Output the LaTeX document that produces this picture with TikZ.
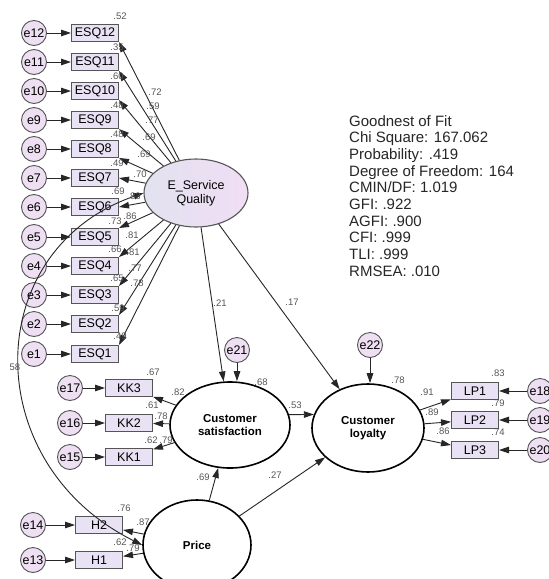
\documentclass[tikz,border=0pt]{standalone}
\usepackage{fontspec}
\setmainfont{Liberation Sans}
\usetikzlibrary{shapes.geometric,arrows.meta}
\definecolor{errfill}{RGB}{238,224,242}
\definecolor{boxfill}{RGB}{232,226,244}
\definecolor{lblcol}{RGB}{85,85,85}
\definecolor{edgecol}{RGB}{85,85,85}
\begin{document}
\begin{tikzpicture}[x=1pt,y=-1pt,
  errnode/.style={circle,draw=edgecol,line width=0.9pt,fill=errfill,minimum size=25pt,inner sep=0pt,font=\fontsize{12.5}{12.5}\selectfont},
  obsnode/.style={rectangle,draw=edgecol,line width=1pt,fill=boxfill,minimum width=47pt,minimum height=17pt,inner sep=0pt,font=\fontsize{12.5}{12.5}\selectfont},
  latnode/.style={ellipse,draw=black,line width=1.6pt,fill=white,inner sep=0pt,align=center,font=\fontsize{11.5}{13}\selectfont\bfseries},
  pathline/.style={draw=black!85,line width=0.9pt,-{Triangle[length=10pt,width=6.5pt]}},
  covline/.style={draw=black!85,line width=0.9pt,{Triangle[length=10pt,width=6.5pt]}-{Triangle[length=10pt,width=6.5pt]}},
  lbl/.style={inner sep=0pt,text=lblcol,font=\fontsize{9.5}{10}\selectfont}
]
\useasboundingbox (0,0) rectangle (549,579);
\fill[white] (0,0) rectangle (549,579);
\clip (0,0) rectangle (549,579);

% E-service quality indicators
\foreach \i/\y in {12/33,11/62,10/91,9/120,8/149,7/178,6/207,5/237,4/266,3/295,2/324,1/354} {
  \node[errnode] (e\i) at (34,\y) {e\i};
  \node[obsnode] (ESQ\i) at (95,\y) {ESQ\i};
  \draw[pathline] (e\i) -- (ESQ\i);
}

\node[ellipse,draw=edgecol,line width=1.1pt,left color={rgb,255:red,226;green,226;blue,240},right color={rgb,255:red,240;green,222;blue,244},minimum width=104pt,minimum height=68pt,inner sep=0pt,align=center,font=\fontsize{12.5}{14}\selectfont] (E) at (196,193) {E\_Service\\Quality};

\foreach \i in {12,11,10,9,8} \draw[pathline] (E) -- (ESQ\i.south east);
\foreach \i in {7,6} \draw[pathline] (E) -- (ESQ\i.east);
\foreach \i in {5,4,3,2,1} \draw[pathline] (E) -- (ESQ\i.north east);

% latent variables
\node[latnode,minimum width=120pt,minimum height=86pt] (CS) at (230,425) {Customer\\satisfaction};
\node[latnode,minimum width=112pt,minimum height=88pt] (CL) at (368,428) {Customer\\loyalty};
\node[latnode,minimum width=108pt,minimum height=90pt] (PR) at (197,545) {Price};

\node[errnode] (e21) at (237,350) {e21};
\node[errnode] (e22) at (370,345) {e22};
\draw[pathline] (e21) -- (e21 |- CS.north);
\draw[pathline] (e22) -- (e22 |- CL.north);

% satisfaction indicators
\node[errnode] (e17) at (70,388) {e17};
\node[obsnode] (KK3) at (129,388) {KK3};
\node[errnode] (e16) at (70,423) {e16};
\node[obsnode] (KK2) at (129,423) {KK2};
\node[errnode] (e15) at (70,457) {e15};
\node[obsnode] (KK1) at (129,457) {KK1};
\draw[pathline] (e17) -- (KK3);
\draw[pathline] (e16) -- (KK2);
\draw[pathline] (e15) -- (KK1);
\draw[pathline] (CS) -- (KK3);
\draw[pathline] (CS) -- (KK2);
\draw[pathline] (CS) -- (KK1);

% price indicators
\node[errnode] (e14) at (33,525) {e14};
\node[obsnode] (H2) at (99,525) {H2};
\node[errnode] (e13) at (33,560) {e13};
\node[obsnode] (H1) at (99,560) {H1};
\draw[pathline] (e14) -- (H2);
\draw[pathline] (e13) -- (H1);
\draw[pathline] (PR) -- (H2);
\draw[pathline] (PR) -- (H1);

% loyalty indicators
\node[obsnode] (LP1) at (475,391) {LP1};
\node[obsnode] (LP2) at (475,420) {LP2};
\node[obsnode] (LP3) at (475,450) {LP3};
\node[errnode] (e18) at (540,391) {e18};
\node[errnode] (e19) at (540,420) {e19};
\node[errnode] (e20) at (540,450) {e20};
\draw[pathline] (e18) -- (LP1);
\draw[pathline] (e19) -- (LP2);
\draw[pathline] (e20) -- (LP3);
\draw[pathline] (CL) -- (LP1);
\draw[pathline] (CL) -- (LP2);
\draw[pathline] (CL) -- (LP3);

% structural paths
\draw[pathline] (E) -- (CS);
\draw[pathline] (E) -- (CL);
\draw[pathline] (PR) -- (CS);
\draw[pathline] (PR) -- (CL);
\draw[pathline] (CS.10) -- (CL.166);

% covariance
\draw[covline] (E.west) .. controls (-20,250) and (-22,463) .. (PR.west);

% labels: squared multiple correlations of ESQ
\node[lbl] (r12) at (120,16) {.52};
\node[lbl] (r11) at (117,47) {.35};
\node[lbl] (r10) at (117,76) {.60};
\node[lbl] (r9) at (117,105) {.48};
\node[lbl] (r8) at (117,134) {.48};
\node[lbl] (r7) at (117,163) {.49};
\node[lbl] (r6) at (118,191) {.69};
\node[lbl] (r5) at (115,221) {.73};
\node[lbl] (r4) at (115,249) {.66};
\node[lbl] (r3) at (117,278) {.65};
\node[lbl] (r2) at (118,308) {.59};
\node[lbl] (r1) at (120,336) {.49};
% loadings of ESQ
\node[lbl] (l12) at (155,92) {.72};
\node[lbl] (l11) at (153,106) {.59};
\node[lbl] (l10) at (152,120) {.77};
\node[lbl] (l9) at (149,137) {.69};
\node[lbl] (l8) at (144,154) {.69};
\node[lbl] (l7) at (140,174) {.70};
\node[lbl] (l6) at (134,196) {.83};
\node[lbl] (l5) at (130,216) {.86};
\node[lbl] (l4) at (132,235) {.81};
\node[lbl] (l3) at (133,252) {.81};
\node[lbl] (l2) at (135,268) {.77};
\node[lbl] (l1) at (137,283) {.78};
\node[lbl] (cov) at (15,367) {58};
% structural labels
\node[lbl] (p21) at (220,303) {.21};
\node[lbl] (p17) at (292,302) {.17};
\node[lbl] (rcs) at (261,382) {.68};
\node[lbl] (rcl) at (398,380) {.78};
\node[lbl] (p53) at (295,405) {.53};
\node[lbl] (p69) at (203,477) {.69};
\node[lbl] (p27) at (275,475) {.27};
% satisfaction labels
\node[lbl] (k3) at (178,392) {.82};
\node[lbl] (k2) at (161,416) {.78};
\node[lbl] (k1) at (166,440) {.79};
\node[lbl] (rk3) at (153,372) {.67};
\node[lbl] (rk2) at (152,405) {.61};
\node[lbl] (rk1) at (151,440) {.62};
% price labels
\node[lbl] (h2) at (143,522) {.87};
\node[lbl] (h1) at (133,548) {.79};
\node[lbl] (rh2) at (124,508) {.76};
\node[lbl] (rh1) at (120,542) {.62};
% loyalty labels
\node[lbl] (lp1) at (427,392) {.91};
\node[lbl] (lp2) at (432,412) {.89};
\node[lbl] (lp3) at (443,431) {.86};
\node[lbl] (rlp1) at (498,373) {.83};
\node[lbl] (rlp2) at (498,403) {.79};
\node[lbl] (rlp3) at (498,432) {.74};

% fit statistics
\node[anchor=north west,inner sep=0pt,align=left,text=black!85,font=\fontsize{15}{16.7}\selectfont] (fit) at (349,115) {Goodnest of Fit\\Chi Square: 167.062\\Probability: .419\\Degree of Freedom: 164\\CMIN/DF: 1.019\\GFI: .922\\AGFI: .900\\CFI: .999\\TLI: .999\\RMSEA: .010};
\end{tikzpicture}
\end{document}
